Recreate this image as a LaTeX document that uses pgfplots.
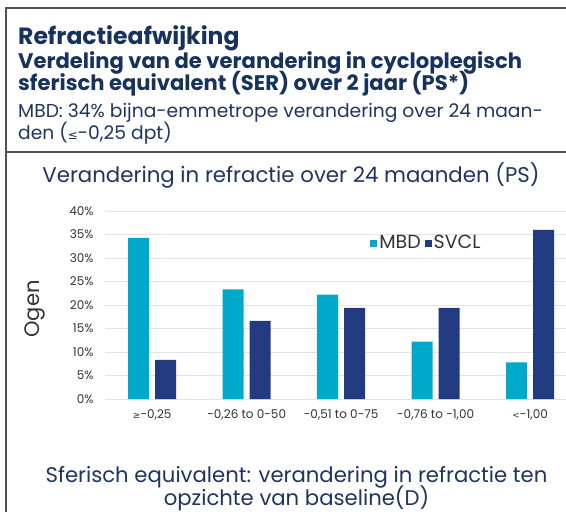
\documentclass[border=0pt]{standalone}
\usepackage{fontspec}
\setmainfont{Poppins}
\newfontfamily\symfont{DejaVu Sans}
\usepackage{pgfplots}
\pgfplotsset{compat=1.18}
\definecolor{mbd}{HTML}{00A9C9}
\definecolor{svcl}{HTML}{223A80}
\definecolor{navy}{HTML}{17325C}
\definecolor{txt}{HTML}{1E3560}
\definecolor{frame}{HTML}{505050}
\begin{document}
\begin{tikzpicture}
\useasboundingbox (0pt,0pt) rectangle (566pt,-512pt);
\draw[line width=2pt, frame] (6pt,-512pt) -- (6pt,-8pt) -- (566pt,-8pt);
\draw[line width=2pt, frame] (6pt,-152pt) -- (566pt,-152pt);
\node[anchor=base west, inner sep=0, text=navy, font=\fontsize{23.5}{28}\selectfont\bfseries] at (18pt,-44pt) {Refractieafwijking};
\node[anchor=base west, inner sep=0, text=navy, font=\fontsize{21.1}{24}\selectfont\bfseries] at (18pt,-68pt) {Verdeling van de verandering in cycloplegisch};
\node[anchor=base west, inner sep=0, text=navy, font=\fontsize{21.1}{24}\selectfont\bfseries] at (18pt,-90pt) {sferisch equivalent (SER) over 2 jaar (PS*)};
\node[anchor=base west, inner sep=0, text=txt, font=\fontsize{18.7}{22}\selectfont] at (18pt,-117pt) {MBD: 34\% bijna-emmetrope verandering over 24 maan-};
\node[anchor=base west, inner sep=0, text=txt, font=\fontsize{18.7}{22}\selectfont] at (18pt,-139pt) {den ({\symfont\fontsize{12}{12}\selectfont ≤}-0,25 dpt)};
\node[anchor=base, inner sep=0, text=txt, font=\fontsize{21.3}{24}\selectfont] at (291pt,-182pt) {Verandering in refractie over 24 maanden (PS)};
\node[anchor=base, inner sep=0, text=txt, font=\fontsize{21.2}{24}\selectfont] at (296.5pt,-482pt) {Sferisch equivalent: verandering in refractie ten};
\node[anchor=base, inner sep=0, text=txt, font=\fontsize{21.2}{24}\selectfont] at (296.5pt,-505.5pt) {opzichte van baseline(D)};
\begin{axis}[
  at={(105pt,-399pt)}, anchor=south west,
  scale only axis, width=461pt, height=188pt,
  xmin=-0.5, xmax=4.38, ymin=0, ymax=40,
  ybar=6pt, bar width=21pt,
  axis line style={draw=none},
  ymajorgrids, grid style={gray!22, line width=0.8pt},
  major tick length=0pt,
  ytick={0,5,...,40},
  yticklabel={\pgfmathprintnumber{\tick}\%},
  /pgf/number format/assume math mode=true,
  yticklabel style={font=\fontsize{12}{14}\selectfont, text=black!80, xshift=-8pt},
  xtick=data,
  xticklabels={{{\symfont\fontsize{9}{9}\selectfont ≥}-0,25},{-0,26 to 0-50},{-0,51 to 0-75},{-0,76 to -1,00},{{\symfont\fontsize{9}{9}\selectfont <}-1,00}},
  xticklabel style={font=\fontsize{12}{14}\selectfont, text=black!80, anchor=base, yshift=-19pt},
  ylabel={Ogen},
  ylabel style={at={(axis description cs:-0.152,0.479)}, anchor=center, font=\fontsize{21}{24}\selectfont, text=black!80},
  legend columns=2,
  legend style={at={(0.575,0.83)}, anchor=west, draw=none, fill=none,
    font=\fontsize{19}{22}\selectfont, text=black!80,
    /tikz/every even column/.append style={column sep=2pt},
    inner sep=0pt},
  legend image code/.code={\fill[#1] (0pt,-4pt) rectangle (7pt,3pt);},
]
\addplot[fill=mbd, draw=none] coordinates {(0,34.3) (1,23.3) (2,22.2) (3,12.2) (4,7.8)};
\addplot[fill=svcl, draw=none] coordinates {(0,8.3) (1,16.6) (2,19.4) (3,19.4) (4,36.0)};
\legend{MBD,SVCL}
\end{axis}
\end{tikzpicture}
\end{document}
